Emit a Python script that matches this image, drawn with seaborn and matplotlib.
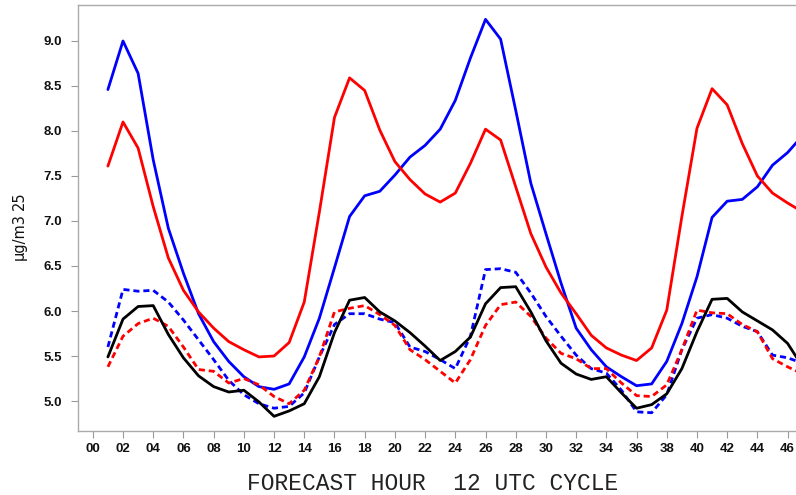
import numpy as np
import pandas as pd
import matplotlib
matplotlib.use("Agg")
import matplotlib.pyplot as plt
import seaborn as sns

hours = list(range(1, 48))

blue_solid = [8.46, 9.00, 8.64, 7.68, 6.92, 6.42, 5.97, 5.66, 5.44, 5.27, 5.16, 5.13, 5.19, 5.49, 5.92, 6.48,
              7.05, 7.28, 7.33, 7.51, 7.71, 7.84, 8.02, 8.34, 8.81, 9.24, 9.02, 8.23, 7.42, 6.86, 6.31, 5.81,
              5.57, 5.38, 5.27, 5.17, 5.19, 5.44, 5.86, 6.38, 7.04, 7.22, 7.24, 7.38, 7.62, 7.76, 7.95]
red_solid = [7.61, 8.10, 7.81, 7.16, 6.59, 6.23, 5.99, 5.81, 5.66, 5.57, 5.49, 5.50, 5.65, 6.10, 7.10, 8.15,
             8.59, 8.45, 8.01, 7.66, 7.46, 7.30, 7.21, 7.31, 7.64, 8.02, 7.90, 7.38, 6.86, 6.49, 6.20, 5.97,
             5.73, 5.59, 5.51, 5.45, 5.59, 6.01, 7.05, 8.03, 8.47, 8.29, 7.86, 7.50, 7.31, 7.20, 7.10]
black_solid = [5.49, 5.91, 6.05, 6.06, 5.74, 5.48, 5.28, 5.16, 5.10, 5.12, 4.99, 4.83, 4.89, 4.97, 5.27, 5.76,
               6.12, 6.15, 5.99, 5.89, 5.76, 5.61, 5.45, 5.55, 5.71, 6.08, 6.26, 6.27, 5.99, 5.67, 5.42, 5.30,
               5.24, 5.27, 5.09, 4.92, 4.96, 5.08, 5.36, 5.77, 6.13, 6.14, 5.99, 5.89, 5.79, 5.64, 5.38]
blue_dashed = [5.60, 6.24, 6.22, 6.23, 6.10, 5.90, 5.68, 5.46, 5.23, 5.07, 4.97, 4.92, 4.94, 5.09, 5.49, 5.85,
               5.97, 5.97, 5.91, 5.87, 5.60, 5.55, 5.46, 5.36, 5.72, 6.46, 6.47, 6.43, 6.20, 5.94, 5.72, 5.51,
               5.36, 5.31, 5.12, 4.88, 4.87, 5.07, 5.57, 5.92, 5.96, 5.92, 5.83, 5.77, 5.51, 5.48, 5.42]
red_dashed = [5.38, 5.72, 5.86, 5.92, 5.83, 5.60, 5.35, 5.33, 5.20, 5.25, 5.18, 5.05, 4.97, 5.12, 5.49, 5.99,
              6.03, 6.06, 5.96, 5.84, 5.57, 5.46, 5.33, 5.20, 5.46, 5.84, 6.07, 6.10, 5.94, 5.70, 5.53, 5.47,
              5.36, 5.36, 5.20, 5.06, 5.05, 5.18, 5.57, 6.01, 5.98, 5.97, 5.85, 5.77, 5.47, 5.38, 5.30]

xtick_vals = list(range(0, 47, 2))
xtick_labels = [f"{h:02d}" for h in xtick_vals]
ytick_vals = [5.0, 5.5, 6.0, 6.5, 7.0, 7.5, 8.0, 8.5, 9.0]

series = {
    "blue_solid": blue_solid,
    "red_solid": red_solid,
    "blue_dashed": blue_dashed,
    "red_dashed": red_dashed,
    "black_solid": black_solid,
}
df = pd.concat(
    [pd.DataFrame({"hour": hours, "value": v, "series": k}) for k, v in series.items()],
    ignore_index=True,
)

sns.set_style("white")
plt.rcParams["font.family"] = ["Liberation Sans", "DejaVu Sans"]

fig = plt.figure(figsize=(7.96, 4.95), dpi=100)
ax = fig.add_axes([0.0976, 0.1293, 0.9298, 0.8616])

palette = {"blue_solid": "#0000ff", "red_solid": "#ff0000", "blue_dashed": "#0000ff",
           "red_dashed": "#ff0000", "black_solid": "#000000"}
dashes = {"blue_solid": "", "red_solid": "", "blue_dashed": (2.2, 1.4),
          "red_dashed": (2.2, 1.4), "black_solid": ""}

sns.lineplot(data=df, x="hour", y="value", hue="series", style="series",
             palette=palette, dashes=dashes, linewidth=2.0, legend=False,
             sort=False, estimator=None, ax=ax)

ax.set_xlim(-1, 48)
ax.set_ylim(4.667, 9.405)
ax.set_xticks(xtick_vals)
ax.set_xticklabels(xtick_labels, fontsize=9.5, fontweight="bold", color="#111111")
ax.set_yticks(ytick_vals)
ax.set_yticklabels([f"{v:.1f}" for v in ytick_vals], fontsize=9.5, fontweight="bold", color="#111111")
ax.tick_params(axis="both", direction="out", length=5, width=0.8, color="#999999",
               bottom=True, left=True, top=False, right=False)
ax.tick_params(axis="y", pad=6)
ax.tick_params(axis="x", pad=4)
for s in ax.spines.values():
    s.set_color("#aaaaaa")
    s.set_linewidth(1.0)
ax.set_xlabel("")
ax.set_ylabel("")

fig.text(0.0245, 0.4747, "µg/m3", rotation=90, ha="center", va="bottom", fontsize=10.5,
         family=["DejaVu Sans"], color="#111111")
fig.text(0.0245, 0.614, "25", rotation=90, ha="center", va="top", fontsize=10.5,
         family=["DejaVu Sans"], color="#111111")

fig.text(0.544, 0.0101, "FORECAST HOUR  12 UTC CYCLE", ha="center", va="baseline",
         fontsize=16.5, family=["Liberation Mono", "DejaVu Sans Mono"], color="#222222")

fig.savefig("out.png", dpi=100)
